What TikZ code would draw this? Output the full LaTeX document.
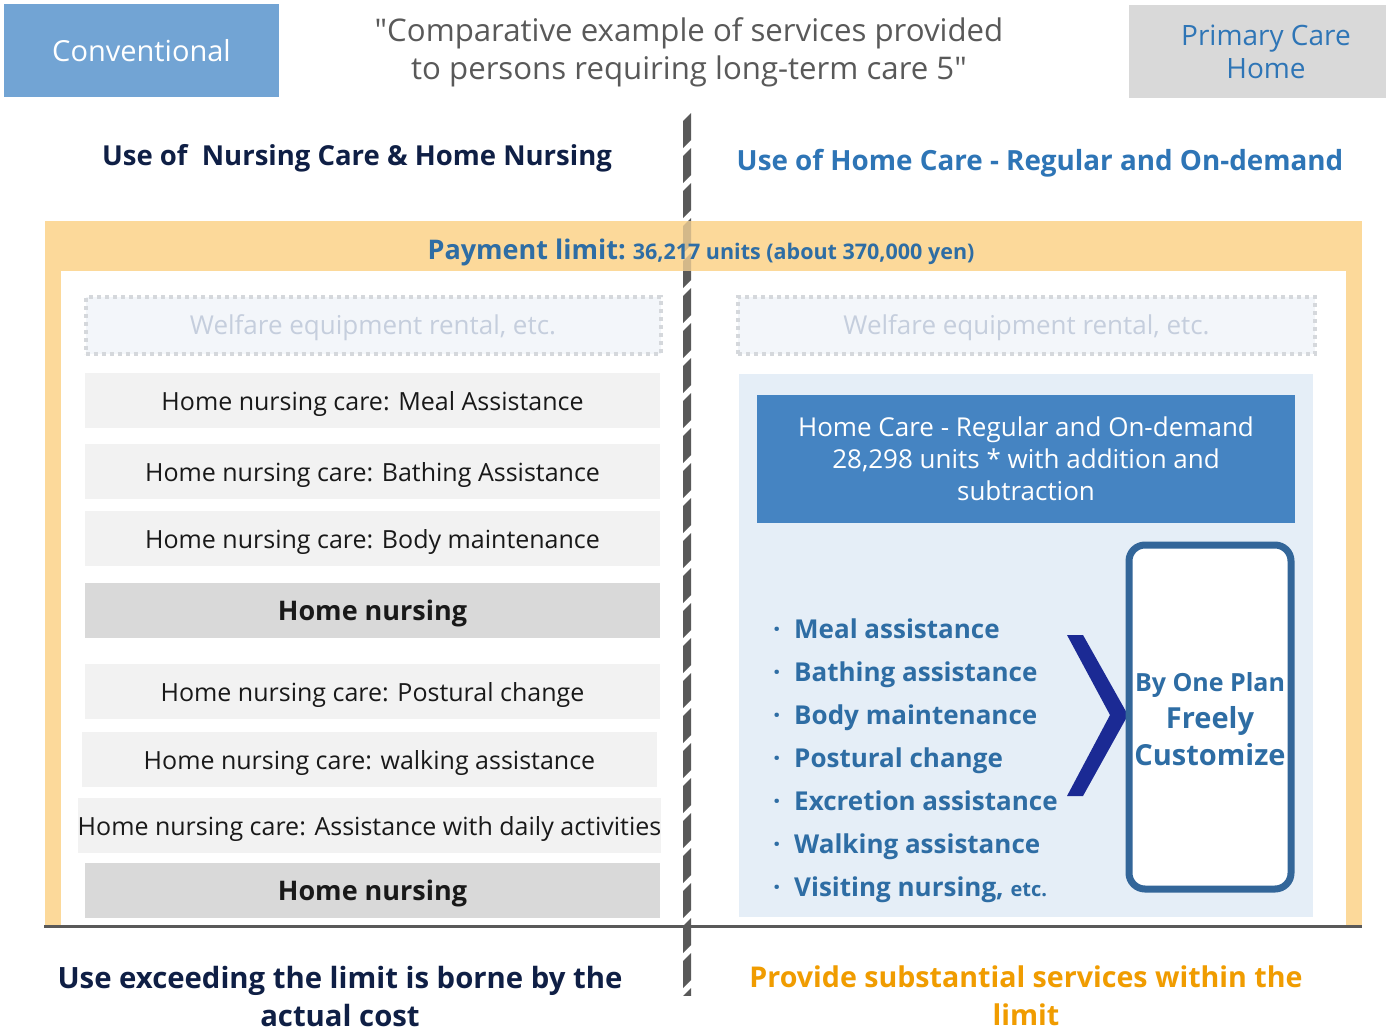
\documentclass[tikz,border=0pt]{standalone}
\usepackage{fontspec}
\setmainfont{Open Sans}
\setmonofont{Open Sans}
\definecolor{convblue}{HTML}{72A4D4}
\definecolor{primgray}{HTML}{D9D9D9}
\definecolor{primtext}{HTML}{2E75B6}
\definecolor{titlegray}{HTML}{595959}
\definecolor{navy}{HTML}{0F1F45}
\definecolor{bluetext}{HTML}{2E6DA4}
\definecolor{frameor}{HTML}{FCD99A}
\definecolor{welftext}{HTML}{C5CEDD}
\definecolor{welffill}{HTML}{F3F6FA}
\definecolor{welfline}{HTML}{D5D8DC}
\definecolor{lgray}{HTML}{F2F2F2}
\definecolor{dgray}{HTML}{D9D9D9}
\definecolor{panelblue}{HTML}{E5EEF7}
\definecolor{boxblue}{HTML}{4584C2}
\definecolor{chevron}{HTML}{1B2A94}
\definecolor{rbox}{HTML}{336699}
\definecolor{orangetext}{HTML}{F09C00}
\definecolor{divgray}{HTML}{595959}
\tikzset{
  lbox/.style={fill=lgray, minimum width=575, minimum height=55, inner sep=0,
    text height=24pt, text depth=5pt,
    font=\fontsize{25}{28}\selectfont, text=black!90},
  hbox/.style={fill=dgray, minimum width=575, minimum height=55, inner sep=0,
    text height=26pt, text depth=6pt,
    font=\bfseries\fontsize{27}{30}\selectfont, text=black!90},
  welf/.style={fill=welffill, draw=welfline, line width=4, dash pattern=on 4pt off 4pt,
    minimum width=575, minimum height=57, inner sep=0, text=welftext,
    text height=25pt, text depth=6pt,
    font=\fontsize{26}{28}\selectfont},
  bul/.style={anchor=base west, inner sep=0, text=bluetext, font=\bfseries\fontsize{26}{30}\selectfont},
}
\begin{document}
\begin{tikzpicture}[x=1pt,y=-1pt]
\useasboundingbox (0,0) rectangle (1386,1031);
\fill[white] (0,0) rectangle (1386,1031);
% header boxes
\node[fill=convblue, minimum width=275, minimum height=93, inner sep=0, text=white,
  text height=27pt, text depth=6pt,
  font=\fontsize{29}{30}\selectfont] (conv) at (141.5,50.5) {Conventional};
\fill[primgray] (1129,5) rectangle (1386,98);
\node[text=primtext, align=center, inner sep=0,
  font=\fontsize{28}{33}\selectfont] (prim) at (1266,52) {Primary Care\\Home};
\node[text=titlegray, align=center, font=\ttfamily\fontsize{31.2}{38}\selectfont] (title) at (689,52)
  {"Comparative example of services provided\\to persons requiring long-term care 5"};
% section headings
\node[text=navy, font=\bfseries\fontsize{27.5}{30}\selectfont] (lhead) at (357,158) {Use of~ Nursing Care \& Home Nursing};
\node[text=primtext, font=\bfseries\fontsize{27.8}{30}\selectfont] (rhead) at (1040,163) {Use of Home Care - Regular and On-demand};
% frame
\fill[frameor] (45,221) rectangle (1362,926);
\fill[white] (61,271) rectangle (1346,926);
% divider
\begin{scope}
\clip (680,113) rectangle (695,995);
\foreach \y in {113,148,...,1000}{
  \fill[divgray] (683,\y+8) -- (691,\y) -- (691,\y+27) -- (683,\y+35) -- cycle;
}
\end{scope}
\fill[frameor, opacity=0.75] (675,221) rectangle (700,271);
\node[text=bluetext, font=\bfseries] (pay) at (701,252)
  {{\fontsize{27}{30}\selectfont Payment limit:}\hspace{7pt}{\fontsize{21.5}{24}\selectfont 36,217 units (about 370,000 yen)}};
% left column
\node[welf] (lw) at (373,325) {Welfare equipment rental, etc.};
\node[lbox] (l1) at (372.5,400.5) {Home nursing care: Meal Assistance};
\node[lbox] (l2) at (372.5,471.5) {Home nursing care: Bathing Assistance};
\node[lbox] (l3) at (372.5,538.5) {Home nursing care: Body maintenance};
\node[hbox] (l4) at (372.5,610.5) {Home nursing};
\node[lbox] (l5) at (372.5,691.5) {Home nursing care: Postural change};
\node[lbox] (l6) at (369.5,759.5) {Home nursing care: walking assistance};
\node[lbox] (l7) at (369.5,825.5) {Home nursing care: Assistance with daily activities};
\node[hbox] (l8) at (372.5,890.5) {Home nursing};
% right column
\node[welf, minimum width=577] (rw) at (1026.5,325) {Welfare equipment rental, etc.};
\fill[panelblue] (739,374) rectangle (1313,917);
\node[fill=boxblue, minimum width=538, minimum height=128, inner sep=0, text=white, align=center,
  font=\fontsize{26}{32}\selectfont] (hc) at (1026,459)
  {Home Care - Regular and On-demand\\28,298 units * with addition and\\subtraction};
\node[bul] (b1) at (773,638) {\makebox[21pt][l]{·}Meal assistance};
\node[bul] (b2) at (773,681) {\makebox[21pt][l]{·}Bathing assistance};
\node[bul] (b3) at (773,724) {\makebox[21pt][l]{·}Body maintenance};
\node[bul] (b4) at (773,767) {\makebox[21pt][l]{·}Postural change};
\node[bul] (b5) at (773,810) {\makebox[21pt][l]{·}Excretion assistance};
\node[bul] (b6) at (773,853) {\makebox[21pt][l]{·}Walking assistance};
\node[bul] (b7) at (773,896) {\makebox[21pt][l]{·}Visiting nursing, {\fontsize{20}{24}\selectfont etc.}};
\fill[chevron] (1067,635) -- (1083,635) -- (1128,715) -- (1083,796) -- (1067,796) -- (1110,715) -- cycle;
\draw[rbox, line width=7, fill=white, rounded corners=16] (1129,545) rectangle (1291,889);
\node[text=bluetext, align=center, inner sep=0, font=\bfseries\fontsize{25}{37}\selectfont] (plan) at (1210,719)
  {By One Plan\\{\fontsize{29}{38}\selectfont Freely}\\{\fontsize{29}{38}\selectfont Customize}};
% bottom line
\draw[divgray, line width=3] (44,926) -- (1362,926);
% bottom texts
\node[text=navy, align=center, font=\bfseries\fontsize{29.3}{38}\selectfont] (lbot) at (340,996)
  {Use exceeding the limit is borne by the\\actual cost};
\node[text=orangetext, align=center, font=\bfseries\fontsize{28.6}{38}\selectfont] (rbot) at (1026,996)
  {Provide substantial services within the\\limit};
\end{tikzpicture}
\end{document}
